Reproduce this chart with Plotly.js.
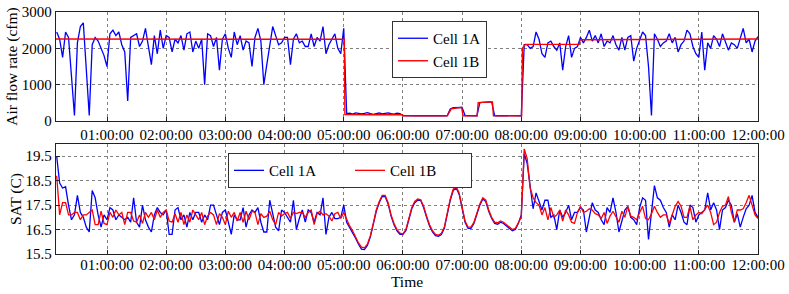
<!DOCTYPE html>
<html>
<head>
<meta charset="utf-8">
<script src="https://cdn.plot.ly/plotly-3.0.1.min.js"></script>
<style>html,body{margin:0;padding:0;background:#fff;}#chart{width:789px;height:294px;}</style>
</head>
<body>
<div id="chart"></div>
<script>
// ---- Data (time in minutes after midnight) ----
const seriesNames = ["Cell 1A", "Cell 1B"];
const hourTickLabels = ["01:00:00","02:00:00","03:00:00","04:00:00","05:00:00","06:00:00","07:00:00","08:00:00","09:00:00","10:00:00","11:00:00","12:00:00"];

// regular sampling grid: first sample minute and spacing (minutes)
const gridStartMin = 9;
const gridStepMin = 3;

// Air flow rate (cfm), Cell 1A, sampled on the grid
const flow1A = [
  2450,2250,1750,2450,2300,1200,150,2150,2600,2700,1500,150,2100,2300,2200,2000,1800,1500,2400,2500,
  2350,2450,2100,1900,550,2300,2350,2400,2050,2200,2550,2050,1550,2350,1850,2500,2000,2350,2300,1900,
  2250,2150,2350,1950,2400,2450,1900,2200,2000,2250,1000,
  2400,2350,2050,2300,1400,2250,2400,2000,1750,2450,2100,2350,1950,2200,2150,1500,2300,2550,2200,1000,
  1550,2150,2600,2350,2100,2150,2300,2300,1550,2250,2400,2150,2200,2050,2050,2400,2050,2300,2200,2600,
  1850,2100,2250,2400,2000,1850,2550,
  200,215,190,225,205,195,210,230,200,185,205,220,195,210,225,200,190,215,205,
  150,145,150,140,145,150,145,140,150,145,150,145,140,150,145,150,
  330,365,375,385,375,
  150,145,150,140,145,
  505,515,520,525,520,
  150,145,140,150,145,150,145,140,150,145,
  2100,2100,2000,2050,2450,2250,1850,1750,2150,2200,
  2050,1950,2150,1400,2050,2350,1750,2000,2050,2300,
  2150,2300,2500,2200,2350,2150,2400,2050,2200,2150,
  2350,2100,1950,2300,1950,2300,2350,1650,2000,2250,
  2450,2350,1500,150,2400,2250,2050,2150,2200,2400,
  2150,2300,1900,2100,2200,2500,2400,2050,1850,1750,
  2450,1400,2150,2000,2350,2250,2050,2400,2200,1950,
  2150,2100,2000,2250,2550,2150,2250,1900,2200,2320
];

// Air flow rate (cfm), Cell 1B: set-point style steps (own time stamps)
const flow1BMin = [8.3, 60, 120, 180, 240, 300.6, 301.2, 330, 359.6, 360.2, 405, 409, 414, 419.5, 421, 435.3, 436.3, 443, 450.8, 451.8, 480.4, 481.2, 484, 538.8, 539.6, 600, 660, 720];
const flow1B    = [2255, 2250, 2255, 2245, 2250, 2250, 175, 170, 170, 140, 140, 335, 360, 375, 140, 140, 505, 515, 525, 140, 140, 2000, 2110, 2110, 2235, 2245, 2250, 2255];

// Supply air temperature (C), sampled on the grid
const sat1A = [
  19.5,18.4,18.2,18.25,17.5,16.9,17.1,17.9,17.2,17.0,
  16.6,16.4,18.1,17.8,17.1,16.6,17.1,16.9,17.4,17.3,
  16.9,17.1,17.0,16.9,17.0,16.8,17.8,16.8,16.6,17.5,
  16.9,16.6,16.4,17.1,17.4,17.2,17.1,17.3,16.3,16.3,
  17.3,17.4,16.9,17.1,16.6,17.2,16.9,17.2,17.2,16.8,
  17.1,
  16.9,17.5,17.5,17.1,16.7,17.2,17.3,16.8,16.3,17.1,
  16.9,16.9,17.4,16.6,17.1,17.3,17.2,17.4,16.8,16.4,
  16.4,17.7,17.1,16.6,16.45,17.3,17.2,17.0,16.8,17.7,
  16.5,16.95,17.3,16.8,17.3,17.2,16.8,17.2,17.1,17.8,
  16.3,17.0,17.2,16.95,16.95,17.0,17.5,
  16.8,16.6,16.4,16.15,15.9,15.7,15.68,15.85,16.2,16.7,
  17.25,17.6,17.85,17.85,17.55,17.05,16.7,16.45,16.3,16.3,
  16.45,16.9,17.35,17.6,17.7,17.7,17.4,17.0,16.65,16.4,
  16.25,16.22,16.3,16.55,17.1,17.7,18.1,18.2,17.95,17.3,
  16.8,16.55,16.55,16.75,17.1,17.5,17.75,17.65,17.25,16.95,
  16.75,16.72,16.8,16.75,16.65,16.55,16.45,16.5,16.75,17.1,
  19.6,19.2,18.3,17.35,18.0,17.6,17.3,17.7,17.7,17.0,
  17.1,16.5,17.3,17.0,17.2,17.5,16.9,17.2,17.2,17.4,
  17.3,16.4,17.0,17.6,17.3,17.2,16.9,16.7,17.4,17.2,
  17.8,17.2,16.4,16.8,17.3,17.45,17.0,16.9,16.7,17.4,
  17.8,17.7,16.1,17.2,18.3,17.8,17.7,17.4,17.2,16.6,
  17.1,16.9,17.5,17.2,16.8,16.7,17.5,17.4,16.8,17.1,
  17.2,17.3,18.0,17.3,17.6,17.3,16.5,17.3,17.4,17.7,
  17.5,16.8,17.15,16.6,17.0,17.35,17.5,17.9,17.2,17.0
];
const sat1B = [
  18.7,17.1,17.6,17.6,17.1,17.1,17.2,17.2,16.9,17.1,
  17.1,17.2,17.3,16.7,16.7,17.25,16.75,16.7,17.2,17.0,
  17.3,17.1,17.2,16.7,17.2,17.2,16.85,16.8,17.1,16.75,
  17.2,17.0,17.2,16.9,17.3,17.0,17.2,17.3,16.85,16.8,
  17.15,16.8,17.2,16.7,17.1,16.8,17.3,17.1,16.9,17.2,
  16.7,
  17.05,17.2,17.1,16.7,17.15,17.0,16.7,17.25,17.0,17.2,
  16.85,17.2,16.8,17.25,16.9,17.25,17.2,16.7,17.15,17.0,
  17.05,17.25,16.9,16.7,17.2,17.05,17.15,17.2,16.95,17.2,
  17.15,17.2,17.2,17.0,17.2,17.3,16.7,17.15,17.25,17.1,
  17.15,17.05,16.85,17.15,17.2,16.95,17.2,
  16.9,16.65,16.45,16.2,15.95,15.78,15.75,15.9,16.25,16.75,
  17.3,17.65,17.9,17.9,17.6,17.1,16.75,16.5,16.35,16.32,
  16.5,16.95,17.4,17.65,17.75,17.72,17.45,17.05,16.7,16.45,
  16.3,16.27,16.35,16.6,17.15,17.75,18.15,18.25,18.0,17.35,
  16.85,16.6,16.6,16.8,17.15,17.55,17.8,17.7,17.3,17.0,
  16.8,16.78,16.85,16.8,16.7,16.6,16.5,16.55,16.8,17.0,
  19.8,19.4,18.2,17.8,17.6,17.5,17.1,17.4,16.9,17.4,
  17.0,17.1,17.3,16.85,17.3,17.1,16.8,16.75,17.2,17.45,
  17.2,17.25,17.35,17.3,17.15,17.1,16.95,17.2,16.75,17.05,
  17.25,17.0,16.8,17.25,17.0,17.45,17.05,17.0,16.9,17.2,
  17.45,16.95,16.9,17.15,17.45,17.2,17.0,17.1,17.1,16.75,
  17.15,17.45,17.65,17.45,17.0,17.0,17.45,16.9,17.1,17.2,
  17.15,17.35,17.5,17.2,16.7,16.8,17.2,17.45,17.5,17.85,
  17.2,16.8,17.3,17.3,17.35,17.6,17.9,17.5,17.1,16.95
];

// ---- helpers ----
const DAY0 = Date.UTC(2016, 0, 1);
function minToDate(m) {
  return new Date(DAY0 + Math.round(m * 60000)).toISOString().replace('T', ' ').replace('Z', '');
}
const gridTimes = flow1A.map((_, i) => minToDate(gridStartMin + i * gridStepMin));
const satTimes = sat1A.map((_, i) => minToDate(gridStartMin + i * gridStepMin));
const flow1BTimes = flow1BMin.map(minToDate);
const hourTickVals = hourTickLabels.map((_, i) => minToDate((i + 1) * 60));

const BLUE = '#0000ff', RED = '#ff0000';
const FONT = 'Liberation Serif, Times New Roman, serif';

const traces = [
  {x: gridTimes, y: flow1A, type: 'scatter', mode: 'lines', name: seriesNames[0],
   line: {color: BLUE, width: 1.3}, xaxis: 'x', yaxis: 'y', legend: 'legend'},
  {x: flow1BTimes, y: flow1B, type: 'scatter', mode: 'lines', name: seriesNames[1],
   line: {color: RED, width: 1.4}, xaxis: 'x', yaxis: 'y', legend: 'legend'},
  {x: satTimes, y: sat1A, type: 'scatter', mode: 'lines', name: seriesNames[0],
   line: {color: BLUE, width: 1.3}, xaxis: 'x2', yaxis: 'y2', legend: 'legend2'},
  {x: satTimes, y: sat1B, type: 'scatter', mode: 'lines', name: seriesNames[1],
   line: {color: RED, width: 1.3}, xaxis: 'x2', yaxis: 'y2', legend: 'legend2'}
];

const xRange = [minToDate(8.3), minToDate(720)];
const axisCommon = {
  showline: true, mirror: true, linecolor: '#222', linewidth: 1.2,
  showgrid: true, gridcolor: '#808080', griddash: 'dot', gridwidth: 1,
  ticks: 'inside', ticklen: 4, tickcolor: '#222', zeroline: false,
  tickfont: {family: FONT, size: 15, color: '#000'}
};

const layout = {
  width: 789, height: 294,
  margin: {l: 56, r: 31, t: 12, b: 40, pad: 0},
  paper_bgcolor: '#fff', plot_bgcolor: '#fff',
  font: {family: FONT, size: 15, color: '#000'},
  showlegend: true,
  xaxis: Object.assign({}, axisCommon, {
    type: 'date', range: xRange, anchor: 'y', domain: [0, 1],
    tickmode: 'array', tickvals: hourTickVals, ticktext: hourTickLabels
  }),
  yaxis: Object.assign({}, axisCommon, {
    domain: [0.5496, 1], anchor: 'x', range: [0, 3000],
    tickmode: 'array', tickvals: [0, 1000, 2000, 3000],
    title: {text: 'Air flow rate (cfm)', font: {family: FONT, size: 15.5, color: '#000'}, standoff: 0}
  }),
  xaxis2: Object.assign({}, axisCommon, {
    type: 'date', range: xRange, anchor: 'y2', domain: [0, 1],
    tickmode: 'array', tickvals: hourTickVals, ticktext: hourTickLabels,
    ticklabelstandoff: -3,
    title: {text: 'Time', font: {family: FONT, size: 15.5, color: '#000'}, standoff: 0}
  }),
  yaxis2: Object.assign({}, axisCommon, {
    domain: [0, 0.4545], anchor: 'x2', range: [15.5, 20.0],
    tickmode: 'array', tickvals: [15.5, 16.5, 17.5, 18.5, 19.5],
    ticktext: ['15.5', '16.5', '17.5', '18.5', '19.5'],
    title: {text: 'SAT (C)', font: {family: FONT, size: 15.5, color: '#000'}, standoff: 0}
  }),
  legend: {
    x: 0.4786, y: 0.9628, xanchor: 'left', yanchor: 'top',
    bgcolor: '#fff', bordercolor: '#333', borderwidth: 1,
    font: {family: FONT, size: 15, color: '#000'}, tracegroupgap: 0
  },
  legend2: {
    x: 0.245, y: 0.417, xanchor: 'left', yanchor: 'top', orientation: 'h',
    bgcolor: '#fff', bordercolor: '#333', borderwidth: 1,
    entrywidth: 76, entrywidthmode: 'pixels',
    font: {family: FONT, size: 15, color: '#000'}
  }
};

Plotly.newPlot('chart', traces, layout, {displayModeBar: false, staticPlot: true});
</script>
</body>
</html>
